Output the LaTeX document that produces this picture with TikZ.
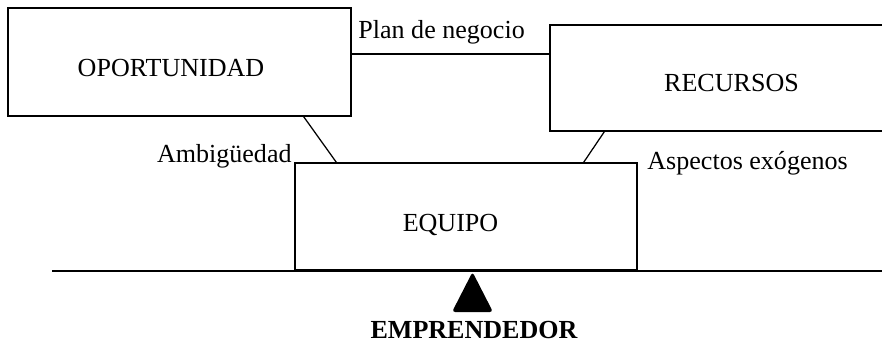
\documentclass[tikz,border=0pt]{standalone}
\usepackage{fontspec}
\setmainfont{Liberation Serif}
\usetikzlibrary{positioning,calc}

\begin{document}
\begin{tikzpicture}[
    x=0.48pt, y=-0.48pt,
    box/.style={rectangle, draw, line width=0.6pt, inner sep=0pt},
    txt/.style={inner sep=0pt, anchor=base, font=\fontsize{12.5}{15}\selectfont},
    link/.style={line width=0.6pt},
]
    \useasboundingbox (0,0) rectangle (882,344);
    \node[box, minimum width=164.64pt, minimum height=51.84pt] (oport) at (179.5,62) {};
    \node[box, minimum width=168pt, minimum height=50.88pt] (recursos) at (725,78) {};
    \node[box, minimum width=164.16pt, minimum height=51.36pt] (equipo) at (466,216.5) {};
    \node[txt] (oportTxt) at (171,77) {OPORTUNIDAD};
    \node[txt] (recursosTxt) at (731.5,92) {RECURSOS};
    \node[txt] (equipoTxt) at (450.5,231) {EQUIPO};
    \coordinate (planA) at ([shift={(0,-8)}]oport.east);
    \draw[link] (planA) -- (planA -| recursos.west);
    \draw[link] ([shift={(-48,0)}]oport.south east) -- ([shift={(42,0)}]equipo.north west);
    \draw[link] ([shift={(55,0)}]recursos.south west) -- ([shift={(-54,0)}]equipo.north east);
    \node[txt, anchor=base west] (plan) at (358,39) {Plan de negocio};
    \node[txt, anchor=base east] (ambig) at (292,163) {Ambigüedad};
    \node[txt, anchor=base west] (aspectos) at (647,170) {Aspectos exógenos};
    \coordinate (beamL) at (52,271);
    \coordinate (beamR) at (890,271);
    \draw[line width=1.2pt] (beamL) -- (beamR);
    \coordinate (tip) at (472.5,272);
    \fill[rounded corners=1.5pt] (tip) -- ++(-20.5,40) -- ++(41,0) -- cycle;
    \node[txt, font=\fontsize{12.5}{15}\selectfont\bfseries] (emprendedor) at (474,338) {EMPRENDEDOR};
\end{tikzpicture}
\end{document}
